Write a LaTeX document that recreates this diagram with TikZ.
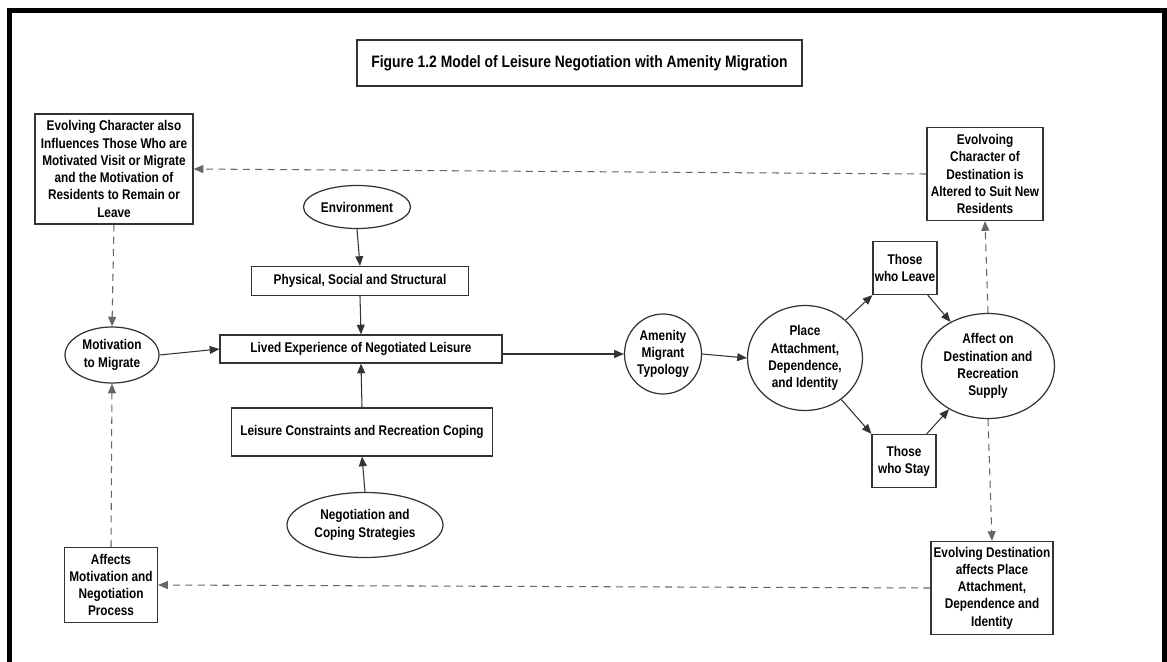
\documentclass[tikz,border=0pt]{standalone}
\usepackage{fontspec}
\setmainfont[FakeStretch=0.84]{Liberation Sans}
\usepackage{tikz}
\usetikzlibrary{arrows.meta, shapes.geometric}
\newcommand{\pxu}{0.02cm}
\tikzset{
  box/.style={draw=black!80, line width=0.7pt, rectangle, inner sep=0pt, align=center,
    font=\bfseries\fontsize{8}{9.8}\selectfont},
  oval/.style={box, ellipse},
  arr/.style={draw=black!80, line width=0.6pt, -{Triangle[length=5.5pt,width=4.5pt]}},
  dasharr/.style={arr, draw=black!60, dash pattern=on 4pt off 3pt}
}
\begin{document}
\begin{tikzpicture}[x=\pxu, y=-\pxu]
  \useasboundingbox (0,0) rectangle (1167,662);
  \clip (0,0) rectangle (1167,662);
  % frame
  \draw[line width=2.4pt, line join=miter] (9.5,700) -- (9.5,10.5) -- (1164.5,10.5) -- (1164.5,700);

  \node[box, minimum width=445*\pxu, minimum height=46*\pxu,
    font=\bfseries\fontsize{9.4}{11}\selectfont] (title) at (579.5,63)
    {Figure 1.2 Model of Leisure Negotiation with Amenity Migration};

  % left column
  \node[box, minimum width=158*\pxu, minimum height=110*\pxu] (evchar) at (114,169)
    {Evolving Character also\\Influences Those Who are\\Motivated Visit or Migrate\\and the Motivation of\\Residents to Remain or\\Leave};
  \node[oval, minimum width=94*\pxu, minimum height=56*\pxu] (motiv) at (112,355)
    {Motivation\\to Migrate};
  \node[box, minimum width=93*\pxu, minimum height=75*\pxu] (affmot) at (111,585)
    {Affects\\Motivation and\\Negotiation\\Process};

  % middle column
  \node[oval, minimum width=107*\pxu, minimum height=43*\pxu] (envir) at (357,207) {Environment};
  \node[box, minimum width=217*\pxu, minimum height=29*\pxu] (physical) at (360,281)
    {Physical, Social and Structural};
  \node[box, minimum width=282*\pxu, minimum height=28*\pxu] (lived) at (361,349)
    {Lived Experience of Negotiated Leisure};
  \node[box, minimum width=261*\pxu, minimum height=48*\pxu] (constr) at (362,432)
    {Leisure Constraints and Recreation Coping};
  \node[oval, minimum width=156*\pxu, minimum height=65*\pxu] (negot) at (365,525)
    {Negotiation and\\Coping Strategies};

  % right part
  \node[oval, minimum width=77*\pxu, minimum height=80*\pxu] (amenity) at (663,354)
    {Amenity\\Migrant\\Typology};
  \node[oval, minimum width=115*\pxu, minimum height=105*\pxu] (place) at (805,358)
    {Place\\Attachment,\\Dependence,\\and Identity};
  \node[box, minimum width=64*\pxu, minimum height=53*\pxu] (leave) at (905,268) {Those\\who Leave};
  \node[box, minimum width=64*\pxu, minimum height=53*\pxu] (stay) at (904,461) {Those\\who Stay};
  \node[oval, minimum width=133*\pxu, minimum height=105*\pxu] (affect) at (988,366)
    {Affect on\\Destination and\\Recreation\\Supply};
  \node[box, minimum width=116*\pxu, minimum height=93*\pxu] (evdest) at (985,174)
    {Evolvoing\\Character of\\Destination is\\Altered to Suit New\\Residents};
  \node[box, minimum width=122*\pxu, minimum height=93*\pxu] (evdestb) at (992,588)
    {Evolving Destination\\affects Place\\Attachment,\\Dependence and\\Identity};

  % solid arrows
  \draw[arr] (envir.south) -- (physical.north);
  \draw[arr] (physical.south) -- (lived.north);
  \draw[arr] (constr.north) -- (lived.south);
  \draw[arr] (negot.north) -- (constr.south);
  \draw[arr] (motiv.east) -- (lived.west);
  \draw[arr] (lived.east |- amenity.west) -- (amenity.west);
  \draw[arr] (amenity.east) -- (place.west);
  \draw[arr] (place) -- (leave.south west);
  \draw[arr] (leave.-50) -- (affect);
  \draw[arr] (place) -- (stay.north west);
  \draw[arr] (stay.50) -- (affect);

  % dashed feedback
  \draw[dasharr] (affect.north) -- (evdest.south);
  \draw[dasharr] (evdest.west) -- (evchar.east);
  \draw[dasharr] (evchar.south) -- (motiv.north);
  \draw[dasharr] (affect.south) -- (evdestb.north);
  \draw[dasharr] (evdestb.west) -- (affmot.east);
  \draw[dasharr] (affmot.north) -- (motiv.south);
\end{tikzpicture}
\end{document}
